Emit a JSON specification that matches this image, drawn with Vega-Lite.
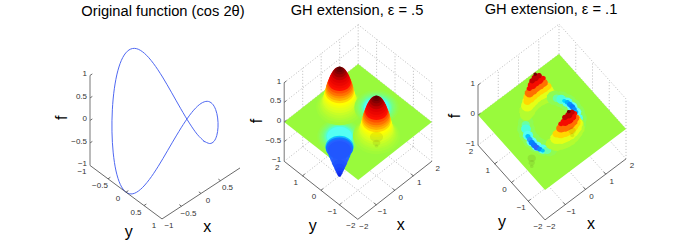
{"$schema":"https://vega.github.io/schema/vega-lite/v6.json","padding":{"left":54,"top":2,"right":0,"bottom":0},"background":"white","bounds":"flush","spacing":24,"config":{"view":{"stroke":null},"text":{"font":"Liberation Sans"},"title":{"font":"Liberation Sans"}},
"datasets":{
"a":[
{"k":"z","x":-1,"y":-1,"f":-1,"x2":-1,"y2":-1,"f2":1},{"k":"a","x":-1,"y":-1,"f":-1,"x2":-1,"y2":1,"f2":-1},{"k":"a","x":-1,"y":1,"f":-1,"x2":1,"y2":1,"f2":-1},
{"k":"a","x":-1,"y":-0.5,"f":-1,"x2":-0.94,"y2":-0.5,"f2":-1},{"k":"a","x":-1,"y":0,"f":-1,"x2":-0.94,"y2":0,"f2":-1},{"k":"a","x":-1,"y":0.5,"f":-1,"x2":-0.94,"y2":0.5,"f2":-1},
{"k":"a","x":-0.5,"y":1,"f":-1,"x2":-0.5,"y2":0.94,"f2":-1},{"k":"a","x":0,"y":1,"f":-1,"x2":0,"y2":0.94,"f2":-1},{"k":"a","x":0.5,"y":1,"f":-1,"x2":0.5,"y2":0.94,"f2":-1},
{"k":"a","x":-1,"y":-1,"f":-0.5,"x2":-0.94,"y2":-1,"f2":-0.5},{"k":"a","x":-1,"y":-1,"f":0,"x2":-0.94,"y2":-1,"f2":0},{"k":"a","x":-1,"y":-1,"f":0.5,"x2":-0.94,"y2":-1,"f2":0.5},{"k":"a","x":-1,"y":-1,"f":1,"x2":-0.94,"y2":-1,"f2":1},
{"k":"c","i":0,"x":1,"y":0,"f":-1},{"k":"c","i":1,"x":0.985,"y":0.174,"f":-0.94},{"k":"c","i":2,"x":0.94,"y":0.342,"f":-0.766},{"k":"c","i":3,"x":0.866,"y":0.5,"f":-0.5},{"k":"c","i":4,"x":0.766,"y":0.643,"f":-0.174},{"k":"c","i":5,"x":0.643,"y":0.766,"f":0.174},{"k":"c","i":6,"x":0.5,"y":0.866,"f":0.5},{"k":"c","i":7,"x":0.342,"y":0.94,"f":0.766},{"k":"c","i":8,"x":0.174,"y":0.985,"f":0.94},{"k":"c","i":9,"x":0,"y":1,"f":1},{"k":"c","i":10,"x":-0.174,"y":0.985,"f":0.94},{"k":"c","i":11,"x":-0.342,"y":0.94,"f":0.766},{"k":"c","i":12,"x":-0.5,"y":0.866,"f":0.5},{"k":"c","i":13,"x":-0.643,"y":0.766,"f":0.174},{"k":"c","i":14,"x":-0.766,"y":0.643,"f":-0.174},{"k":"c","i":15,"x":-0.866,"y":0.5,"f":-0.5},{"k":"c","i":16,"x":-0.94,"y":0.342,"f":-0.766},{"k":"c","i":17,"x":-0.985,"y":0.174,"f":-0.94},{"k":"c","i":18,"x":-1,"y":0,"f":-1},{"k":"c","i":19,"x":-0.985,"y":-0.174,"f":-0.94},{"k":"c","i":20,"x":-0.94,"y":-0.342,"f":-0.766},{"k":"c","i":21,"x":-0.866,"y":-0.5,"f":-0.5},{"k":"c","i":22,"x":-0.766,"y":-0.643,"f":-0.174},{"k":"c","i":23,"x":-0.643,"y":-0.766,"f":0.174},{"k":"c","i":24,"x":-0.5,"y":-0.866,"f":0.5},{"k":"c","i":25,"x":-0.342,"y":-0.94,"f":0.766},{"k":"c","i":26,"x":-0.174,"y":-0.985,"f":0.94},{"k":"c","i":27,"x":0,"y":-1,"f":1},{"k":"c","i":28,"x":0.174,"y":-0.985,"f":0.94},{"k":"c","i":29,"x":0.342,"y":-0.94,"f":0.766},{"k":"c","i":30,"x":0.5,"y":-0.866,"f":0.5},{"k":"c","i":31,"x":0.643,"y":-0.766,"f":0.174},{"k":"c","i":32,"x":0.766,"y":-0.643,"f":-0.174},{"k":"c","i":33,"x":0.866,"y":-0.5,"f":-0.5},{"k":"c","i":34,"x":0.94,"y":-0.342,"f":-0.766},{"k":"c","i":35,"x":0.985,"y":-0.174,"f":-0.94},{"k":"c","i":36,"x":1,"y":0,"f":-1},
{"k":"zl","x":-1,"y":-1,"f":1,"t":"1"},{"k":"zl","x":-1,"y":-1,"f":0.5,"t":"0.5"},{"k":"zl","x":-1,"y":-1,"f":0,"t":"0"},{"k":"zl","x":-1,"y":-1,"f":-0.5,"t":"−0.5"},{"k":"zl","x":-1,"y":-1,"f":-1,"t":"−1"},
{"k":"yl","x":-1,"y":-1,"f":-1,"t":"−1"},{"k":"yl","x":-1,"y":-0.5,"f":-1,"t":"−0.5"},{"k":"yl","x":-1,"y":0,"f":-1,"t":"0"},{"k":"yl","x":-1,"y":0.5,"f":-1,"t":"0.5"},{"k":"yl","x":-1,"y":1,"f":-1,"t":"1"},
{"k":"xl","x":-1,"y":1,"f":-1,"t":"−1"},{"k":"xl","x":-0.5,"y":1,"f":-1,"t":"−0.5"},{"k":"xl","x":0,"y":1,"f":-1,"t":"0"},{"k":"xl","x":0.5,"y":1,"f":-1,"t":"0.5"},
{"k":"ti","x":-1.73,"y":0.87,"f":-1,"t":"y"},{"k":"ti","x":-0.57,"y":1.79,"f":-1,"t":"x"},{"k":"fl","x":-1.36,"y":-1.44,"f":0,"t":"f"}
],
"g":[
{"k":"g","x":2,"y":-2,"f":-1,"x2":2,"y2":-2,"f2":1},{"k":"g","x":2,"y":-1,"f":-1,"x2":2,"y2":-1,"f2":1},{"k":"g","x":2,"y":0,"f":-1,"x2":2,"y2":0,"f2":1},{"k":"g","x":2,"y":1,"f":-1,"x2":2,"y2":1,"f2":1},{"k":"g","x":2,"y":2,"f":-1,"x2":2,"y2":2,"f2":1},
{"k":"g","x":-1,"y":2,"f":-1,"x2":-1,"y2":2,"f2":1},{"k":"g","x":0,"y":2,"f":-1,"x2":0,"y2":2,"f2":1},{"k":"g","x":1,"y":2,"f":-1,"x2":1,"y2":2,"f2":1},
{"k":"g","x":2,"y":-2,"f":-1,"x2":2,"y2":2,"f2":-1},{"k":"g","x":-2,"y":2,"f":-1,"x2":2,"y2":2,"f2":-1},{"k":"g","x":2,"y":-2,"f":0,"x2":2,"y2":2,"f2":0},{"k":"g","x":-2,"y":2,"f":0,"x2":2,"y2":2,"f2":0},{"k":"g","x":2,"y":-2,"f":1,"x2":2,"y2":2,"f2":1},{"k":"g","x":-2,"y":2,"f":1,"x2":2,"y2":2,"f2":1},
{"k":"g","x":-1,"y":-2,"f":-1,"x2":-1,"y2":2,"f2":-1},{"k":"g","x":0,"y":-2,"f":-1,"x2":0,"y2":2,"f2":-1},{"k":"g","x":1,"y":-2,"f":-1,"x2":1,"y2":2,"f2":-1},{"k":"g","x":-2,"y":-1,"f":-1,"x2":2,"y2":-1,"f2":-1},{"k":"g","x":-2,"y":0,"f":-1,"x2":2,"y2":0,"f2":-1},{"k":"g","x":-2,"y":1,"f":-1,"x2":2,"y2":1,"f2":-1},
{"k":"z","x":-2,"y":2,"f":-1,"x2":-2,"y2":2,"f2":1},{"k":"a","x":-2,"y":-2,"f":-1,"x2":-2,"y2":2,"f2":-1},{"k":"a","x":-2,"y":-2,"f":-1,"x2":2,"y2":-2,"f2":-1},
{"k":"a","x":-2,"y":-1,"f":-1,"x2":-1.88,"y2":-1,"f2":-1},{"k":"a","x":-2,"y":0,"f":-1,"x2":-1.88,"y2":0,"f2":-1},{"k":"a","x":-2,"y":1,"f":-1,"x2":-1.88,"y2":1,"f2":-1},
{"k":"a","x":-1,"y":-2,"f":-1,"x2":-1,"y2":-1.88,"f2":-1},{"k":"a","x":0,"y":-2,"f":-1,"x2":0,"y2":-1.88,"f2":-1},{"k":"a","x":1,"y":-2,"f":-1,"x2":1,"y2":-1.88,"f2":-1},
{"k":"a","x":-2,"y":2,"f":0,"x2":-1.88,"y2":2,"f2":0},{"k":"a","x":-2,"y":2,"f":1,"x2":-1.88,"y2":2,"f2":1},
{"k":"zl","x":-2,"y":2,"f":1,"t":"1"},{"k":"zl","x":-2,"y":2,"f":0,"t":"0"},{"k":"zl","x":-2,"y":2,"f":-1,"t":"−1"},
{"k":"yl","x":-2,"y":2,"f":-1,"t":"2"},{"k":"yl","x":-2,"y":1,"f":-1,"t":"1"},{"k":"yl","x":-2,"y":0,"f":-1,"t":"0"},{"k":"yl","x":-2,"y":-1,"f":-1,"t":"−1"},{"k":"yl","x":-2,"y":-2,"f":-1,"t":"−2"},
{"k":"xl","x":-2,"y":-2,"f":-1,"t":"−2"},{"k":"xl","x":-1,"y":-2,"f":-1,"t":"−1"},{"k":"xl","x":0,"y":-2,"f":-1,"t":"0"},{"k":"xl","x":1,"y":-2,"f":-1,"t":"1"},{"k":"xl","x":2,"y":-2,"f":-1,"t":"2"}
],
"g2":[
{"k":"g","x":2,"y":-2,"f":0.5,"x2":2,"y2":2,"f2":0.5},{"k":"g","x":-2,"y":2,"f":0.5,"x2":2,"y2":2,"f2":0.5},{"k":"g","x":2,"y":-2,"f":-0.5,"x2":2,"y2":2,"f2":-0.5},{"k":"g","x":-2,"y":2,"f":-0.5,"x2":2,"y2":2,"f2":-0.5},
{"k":"a","x":-2,"y":2,"f":0.5,"x2":-1.88,"y2":2,"f2":0.5},{"k":"a","x":-2,"y":2,"f":-0.5,"x2":-1.88,"y2":2,"f2":-0.5},
{"k":"zl","x":-2,"y":2,"f":0.5,"t":"0.5"},{"k":"zl","x":-2,"y":2,"f":-0.5,"t":"−0.5"},
{"k":"ti","x":-3.52,"y":-1.08,"f":-1,"t":"y"},{"k":"ti","x":-1.1,"y":-3.43,"f":-1,"t":"x"},{"k":"fl","x":-2.77,"y":2.83,"f":0,"t":"f"},
{"k":"p","x":-2,"y":2,"f":0,"x2":-2,"y2":2,"f2":0},{"k":"p","x":2,"y":2,"f":0,"x2":-2,"y2":-2,"f2":0},{"k":"p","x":2,"y":-2,"f":0,"x2":2,"y2":-2,"f2":0},
{"k":"d","x":-1,"y":0,"f":0,"r":0.85,"v":-0.02},{"k":"d","x":-1,"y":0,"f":0,"r":0.78,"v":-0.05},{"k":"d","x":-1,"y":0,"f":0,"r":0.72,"v":-0.08},{"k":"d","x":-1,"y":0,"f":0,"r":0.66,"v":-0.12},{"k":"d","x":-1,"y":0,"f":0,"r":0.6,"v":-0.16},{"k":"d","x":-1,"y":0,"f":0,"r":0.56,"v":-0.2},{"k":"d","x":-1,"y":0,"f":0,"r":0.52,"v":-0.24},{"k":"d","x":-1,"y":0,"f":0,"r":0.48,"v":-0.28},
{"k":"d","x":0,"y":1,"f":0.02,"r":0.9,"v":0.02},{"k":"d","x":0,"y":1,"f":0.05,"r":0.82,"v":0.05},{"k":"d","x":0,"y":1,"f":0.08,"r":0.76,"v":0.08},{"k":"d","x":0,"y":1,"f":0.11,"r":0.72,"v":0.11},{"k":"d","x":0,"y":1,"f":0.15,"r":0.68,"v":0.15},{"k":"d","x":0,"y":1,"f":0.2,"r":0.65,"v":0.2},{"k":"d","x":0,"y":1,"f":0.25,"r":0.62,"v":0.25},{"k":"d","x":0,"y":1,"f":0.3,"r":0.6,"v":0.3},{"k":"d","x":0,"y":1,"f":0.35,"r":0.58,"v":0.35},{"k":"d","x":0,"y":1,"f":0.4,"r":0.56,"v":0.4},{"k":"d","x":0,"y":1,"f":0.45,"r":0.54,"v":0.45},{"k":"d","x":0,"y":1,"f":0.5,"r":0.52,"v":0.5},{"k":"d","x":0,"y":1,"f":0.55,"r":0.5,"v":0.55},{"k":"d","x":0,"y":1,"f":0.6,"r":0.47,"v":0.6},{"k":"d","x":0,"y":1,"f":0.65,"r":0.44,"v":0.65},{"k":"d","x":0,"y":1,"f":0.7,"r":0.41,"v":0.7},{"k":"d","x":0,"y":1,"f":0.75,"r":0.38,"v":0.75},{"k":"d","x":0,"y":1,"f":0.8,"r":0.34,"v":0.8},{"k":"d","x":0,"y":1,"f":0.85,"r":0.3,"v":0.85},{"k":"d","x":0,"y":1,"f":0.9,"r":0.25,"v":0.9},{"k":"d","x":0,"y":1,"f":0.94,"r":0.19,"v":0.94},{"k":"d","x":0,"y":1,"f":0.97,"r":0.13,"v":0.97},{"k":"d","x":0,"y":1,"f":1,"r":0.07,"v":1},
{"k":"d","x":1,"y":0,"f":0,"r":0.85,"v":-0.02},{"k":"d","x":1,"y":0,"f":0,"r":0.78,"v":-0.05},{"k":"d","x":1,"y":0,"f":0,"r":0.72,"v":-0.08},{"k":"d","x":1,"y":0,"f":0,"r":0.66,"v":-0.12},{"k":"d","x":1,"y":0,"f":0,"r":0.6,"v":-0.16},{"k":"d","x":1,"y":0,"f":0,"r":0.56,"v":-0.2},{"k":"d","x":1,"y":0,"f":0,"r":0.52,"v":-0.24},{"k":"d","x":1,"y":0,"f":0,"r":0.48,"v":-0.28},
{"k":"d","x":0,"y":-1,"f":0.02,"r":0.9,"v":0.02},{"k":"d","x":0,"y":-1,"f":0.05,"r":0.82,"v":0.05},{"k":"d","x":0,"y":-1,"f":0.08,"r":0.76,"v":0.08},{"k":"d","x":0,"y":-1,"f":0.11,"r":0.72,"v":0.11},{"k":"d","x":0,"y":-1,"f":0.15,"r":0.68,"v":0.15},{"k":"d","x":0,"y":-1,"f":0.2,"r":0.65,"v":0.2},{"k":"d","x":0,"y":-1,"f":0.25,"r":0.62,"v":0.25},{"k":"d","x":0,"y":-1,"f":0.3,"r":0.6,"v":0.3},{"k":"d","x":0,"y":-1,"f":0.35,"r":0.58,"v":0.35},{"k":"d","x":0,"y":-1,"f":0.4,"r":0.56,"v":0.4},{"k":"d","x":0,"y":-1,"f":0.45,"r":0.54,"v":0.45},{"k":"d","x":0,"y":-1,"f":0.5,"r":0.52,"v":0.5},{"k":"d","x":0,"y":-1,"f":0.55,"r":0.5,"v":0.55},{"k":"d","x":0,"y":-1,"f":0.6,"r":0.47,"v":0.6},{"k":"d","x":0,"y":-1,"f":0.65,"r":0.44,"v":0.65},{"k":"d","x":0,"y":-1,"f":0.7,"r":0.41,"v":0.7},{"k":"d","x":0,"y":-1,"f":0.75,"r":0.38,"v":0.75},{"k":"d","x":0,"y":-1,"f":0.8,"r":0.34,"v":0.8},{"k":"d","x":0,"y":-1,"f":0.85,"r":0.3,"v":0.85},{"k":"d","x":0,"y":-1,"f":0.9,"r":0.25,"v":0.9},{"k":"d","x":0,"y":-1,"f":0.94,"r":0.19,"v":0.94},{"k":"d","x":0,"y":-1,"f":0.97,"r":0.13,"v":0.97},{"k":"d","x":0,"y":-1,"f":1,"r":0.07,"v":1},
{"k":"d","x":-1,"y":0,"f":-0.45,"r":0.42,"v":-0.55},{"k":"d","x":-1,"y":0,"f":-0.55,"r":0.36,"v":-0.6},{"k":"d","x":-1,"y":0,"f":-0.65,"r":0.3,"v":-0.64},{"k":"d","x":-1,"y":0,"f":-0.72,"r":0.25,"v":-0.68},{"k":"d","x":-1,"y":0,"f":-0.8,"r":0.2,"v":-0.72},{"k":"d","x":-1,"y":0,"f":-0.87,"r":0.15,"v":-0.76},{"k":"d","x":-1,"y":0,"f":-0.93,"r":0.11,"v":-0.82},{"k":"d","x":-1,"y":0,"f":-0.97,"r":0.08,"v":-0.88},{"k":"d","x":-1,"y":0,"f":-1,"r":0.05,"v":-0.95},
{"k":"d","x":-1,"y":0,"f":-0.26,"r":0.54,"v":-0.38},{"k":"d","x":-1,"y":0,"f":-0.28,"r":0.53,"v":-0.45},{"k":"d","x":-1,"y":0,"f":-0.295,"r":0.52,"v":-0.52},{"k":"d","x":-1,"y":0,"f":-0.31,"r":0.5,"v":-0.58},{"k":"d","x":-1,"y":0,"f":-0.33,"r":0.47,"v":-0.62},{"k":"d","x":-1,"y":0,"f":-0.35,"r":0.44,"v":-0.66},
{"k":"h","x":1,"y":0,"f":-0.75,"r":0.25},{"k":"h","x":1,"y":0,"f":-0.9,"r":0.15},{"k":"h","x":1,"y":0,"f":-0.98,"r":0.07}
],
"g3":[
{"k":"ti","x":-3.38,"y":-1.1,"f":-1,"t":"y"},{"k":"ti","x":-0.8,"y":-3.3,"f":-1,"t":"x"},{"k":"fl","x":-2.76,"y":2.57,"f":0,"t":"f"},
{"k":"p","x":-2,"y":2,"f":0,"x2":-2,"y2":2,"f2":0},{"k":"p","x":1.31,"y":2,"f":0,"x2":-2,"y2":-2,"f2":0},{"k":"p","x":2,"y":2,"f":0,"x2":-1.31,"y2":-2,"f2":0},{"k":"p","x":2,"y":-2,"f":0,"x2":2,"y2":-2,"f2":0},
{"k":"d","x":-1,"y":0,"f":-0.1,"r":0.34,"v":-0.05},{"k":"d","x":-0.97,"y":0.26,"f":-0.1,"r":0.34,"v":-0.05},{"k":"d","x":-0.97,"y":-0.26,"f":-0.1,"r":0.34,"v":-0.05},{"k":"d","x":-0.87,"y":0.5,"f":-0.1,"r":0.34,"v":-0.05},{"k":"d","x":-0.87,"y":-0.5,"f":-0.1,"r":0.34,"v":-0.05},{"k":"d","x":-0.71,"y":0.71,"f":-0.1,"r":0.3,"v":-0.04},{"k":"d","x":-0.71,"y":-0.71,"f":-0.1,"r":0.3,"v":-0.04},
{"k":"d","x":-0.77,"y":0.64,"f":-0.1,"r":0.16,"v":-0.18},{"k":"d","x":-0.87,"y":0.5,"f":-0.1,"r":0.19,"v":-0.25},{"k":"d","x":-0.97,"y":0.26,"f":-0.12,"r":0.2,"v":-0.28},{"k":"d","x":-1,"y":0,"f":-0.15,"r":0.2,"v":-0.3},{"k":"d","x":-0.97,"y":-0.26,"f":-0.15,"r":0.2,"v":-0.3},{"k":"d","x":-0.87,"y":-0.5,"f":-0.15,"r":0.19,"v":-0.28},{"k":"d","x":-0.77,"y":-0.64,"f":-0.15,"r":0.16,"v":-0.2},
{"k":"d","x":-0.97,"y":0.26,"f":-0.15,"r":0.1,"v":-0.4},{"k":"d","x":-0.99,"y":0.13,"f":-0.16,"r":0.11,"v":-0.46},{"k":"d","x":-1,"y":0,"f":-0.18,"r":0.12,"v":-0.52},{"k":"d","x":-0.99,"y":-0.13,"f":-0.19,"r":0.12,"v":-0.56},{"k":"d","x":-0.97,"y":-0.26,"f":-0.2,"r":0.12,"v":-0.6},{"k":"d","x":-0.92,"y":-0.38,"f":-0.2,"r":0.1,"v":-0.5},{"k":"d","x":-0.87,"y":-0.5,"f":-0.2,"r":0.08,"v":-0.4},
{"k":"d","x":0,"y":1,"f":0.08,"r":0.32,"v":0.08},{"k":"d","x":0.17,"y":0.98,"f":0.08,"r":0.32,"v":0.08},{"k":"d","x":-0.17,"y":0.98,"f":0.08,"r":0.32,"v":0.08},{"k":"d","x":0.34,"y":0.94,"f":0.08,"r":0.31,"v":0.08},{"k":"d","x":-0.34,"y":0.94,"f":0.08,"r":0.31,"v":0.08},{"k":"d","x":0.5,"y":0.87,"f":0.08,"r":0.31,"v":0.08},{"k":"d","x":-0.5,"y":0.87,"f":0.08,"r":0.31,"v":0.08},{"k":"d","x":0.64,"y":0.77,"f":0.08,"r":0.24,"v":0.08},{"k":"d","x":-0.64,"y":0.77,"f":0.08,"r":0.24,"v":0.08},
{"k":"d","x":0,"y":1,"f":0.25,"r":0.29,"v":0.25},{"k":"d","x":0.17,"y":0.98,"f":0.25,"r":0.29,"v":0.25},{"k":"d","x":-0.17,"y":0.98,"f":0.25,"r":0.29,"v":0.25},{"k":"d","x":0.34,"y":0.94,"f":0.25,"r":0.28,"v":0.25},{"k":"d","x":-0.34,"y":0.94,"f":0.25,"r":0.28,"v":0.25},{"k":"d","x":0.5,"y":0.87,"f":0.25,"r":0.24,"v":0.25},{"k":"d","x":-0.5,"y":0.87,"f":0.25,"r":0.24,"v":0.25},
{"k":"d","x":0,"y":1,"f":0.4,"r":0.26,"v":0.4},{"k":"d","x":0.17,"y":0.98,"f":0.4,"r":0.25,"v":0.4},{"k":"d","x":-0.17,"y":0.98,"f":0.4,"r":0.25,"v":0.4},{"k":"d","x":0.34,"y":0.94,"f":0.4,"r":0.23,"v":0.4},{"k":"d","x":-0.34,"y":0.94,"f":0.4,"r":0.23,"v":0.4},{"k":"d","x":0.5,"y":0.87,"f":0.4,"r":0.15,"v":0.4},{"k":"d","x":-0.5,"y":0.87,"f":0.4,"r":0.15,"v":0.4},
{"k":"d","x":0,"y":1,"f":0.55,"r":0.23,"v":0.55},{"k":"d","x":0.17,"y":0.98,"f":0.55,"r":0.22,"v":0.55},{"k":"d","x":-0.17,"y":0.98,"f":0.55,"r":0.22,"v":0.55},{"k":"d","x":0.34,"y":0.94,"f":0.55,"r":0.18,"v":0.55},{"k":"d","x":-0.34,"y":0.94,"f":0.55,"r":0.18,"v":0.55},
{"k":"d","x":0,"y":1,"f":0.7,"r":0.18,"v":0.7},{"k":"d","x":0.17,"y":0.98,"f":0.7,"r":0.17,"v":0.7},{"k":"d","x":-0.17,"y":0.98,"f":0.7,"r":0.17,"v":0.7},{"k":"d","x":0.34,"y":0.94,"f":0.7,"r":0.1,"v":0.7},{"k":"d","x":-0.34,"y":0.94,"f":0.7,"r":0.1,"v":0.7},
{"k":"d","x":0,"y":1,"f":0.85,"r":0.14,"v":0.85},{"k":"d","x":0.17,"y":0.98,"f":0.85,"r":0.11,"v":0.85},{"k":"d","x":-0.17,"y":0.98,"f":0.85,"r":0.11,"v":0.85},{"k":"d","x":0,"y":1,"f":0.97,"r":0.07,"v":0.97},
{"k":"d","x":1,"y":0,"f":0,"r":0.34,"v":-0.05},{"k":"d","x":0.97,"y":0.26,"f":0,"r":0.34,"v":-0.05},{"k":"d","x":0.97,"y":-0.26,"f":0,"r":0.34,"v":-0.05},{"k":"d","x":0.87,"y":0.5,"f":0,"r":0.34,"v":-0.05},{"k":"d","x":0.87,"y":-0.5,"f":0,"r":0.34,"v":-0.05},{"k":"d","x":0.71,"y":0.71,"f":0,"r":0.3,"v":-0.04},{"k":"d","x":0.71,"y":-0.71,"f":0,"r":0.3,"v":-0.04},
{"k":"d","x":0.77,"y":0.64,"f":0,"r":0.16,"v":-0.18},{"k":"d","x":0.87,"y":0.5,"f":0,"r":0.19,"v":-0.25},{"k":"d","x":0.97,"y":0.26,"f":0,"r":0.2,"v":-0.28},{"k":"d","x":1,"y":0,"f":0,"r":0.2,"v":-0.3},{"k":"d","x":0.97,"y":-0.26,"f":0,"r":0.2,"v":-0.3},{"k":"d","x":0.87,"y":-0.5,"f":0,"r":0.19,"v":-0.28},{"k":"d","x":0.77,"y":-0.64,"f":0,"r":0.16,"v":-0.2},
{"k":"d","x":0.92,"y":0.38,"f":0,"r":0.08,"v":-0.36},{"k":"d","x":0.97,"y":0.26,"f":0,"r":0.1,"v":-0.42},{"k":"d","x":0.99,"y":0.13,"f":0,"r":0.11,"v":-0.5},{"k":"d","x":1,"y":0,"f":0,"r":0.11,"v":-0.55},{"k":"d","x":0.99,"y":-0.13,"f":0,"r":0.1,"v":-0.5},{"k":"d","x":0.97,"y":-0.26,"f":0,"r":0.09,"v":-0.42},
{"k":"d","x":0,"y":-1,"f":0.08,"r":0.32,"v":0.08},{"k":"d","x":0.17,"y":-0.98,"f":0.08,"r":0.32,"v":0.08},{"k":"d","x":-0.17,"y":-0.98,"f":0.08,"r":0.32,"v":0.08},{"k":"d","x":0.34,"y":-0.94,"f":0.08,"r":0.31,"v":0.08},{"k":"d","x":-0.34,"y":-0.94,"f":0.08,"r":0.31,"v":0.08},{"k":"d","x":0.5,"y":-0.87,"f":0.08,"r":0.31,"v":0.08},{"k":"d","x":-0.5,"y":-0.87,"f":0.08,"r":0.31,"v":0.08},{"k":"d","x":0.64,"y":-0.77,"f":0.08,"r":0.24,"v":0.08},{"k":"d","x":-0.64,"y":-0.77,"f":0.08,"r":0.24,"v":0.08},
{"k":"d","x":0,"y":-1,"f":0.25,"r":0.29,"v":0.25},{"k":"d","x":0.17,"y":-0.98,"f":0.25,"r":0.29,"v":0.25},{"k":"d","x":-0.17,"y":-0.98,"f":0.25,"r":0.29,"v":0.25},{"k":"d","x":0.34,"y":-0.94,"f":0.25,"r":0.28,"v":0.25},{"k":"d","x":-0.34,"y":-0.94,"f":0.25,"r":0.28,"v":0.25},{"k":"d","x":0.5,"y":-0.87,"f":0.25,"r":0.24,"v":0.25},{"k":"d","x":-0.5,"y":-0.87,"f":0.25,"r":0.24,"v":0.25},
{"k":"d","x":0,"y":-1,"f":0.4,"r":0.26,"v":0.4},{"k":"d","x":0.17,"y":-0.98,"f":0.4,"r":0.25,"v":0.4},{"k":"d","x":-0.17,"y":-0.98,"f":0.4,"r":0.25,"v":0.4},{"k":"d","x":0.34,"y":-0.94,"f":0.4,"r":0.23,"v":0.4},{"k":"d","x":-0.34,"y":-0.94,"f":0.4,"r":0.23,"v":0.4},{"k":"d","x":0.5,"y":-0.87,"f":0.4,"r":0.15,"v":0.4},{"k":"d","x":-0.5,"y":-0.87,"f":0.4,"r":0.15,"v":0.4},
{"k":"d","x":0,"y":-1,"f":0.55,"r":0.23,"v":0.55},{"k":"d","x":0.17,"y":-0.98,"f":0.55,"r":0.22,"v":0.55},{"k":"d","x":-0.17,"y":-0.98,"f":0.55,"r":0.22,"v":0.55},{"k":"d","x":0.34,"y":-0.94,"f":0.55,"r":0.18,"v":0.55},{"k":"d","x":-0.34,"y":-0.94,"f":0.55,"r":0.18,"v":0.55},
{"k":"d","x":0,"y":-1,"f":0.7,"r":0.18,"v":0.7},{"k":"d","x":0.17,"y":-0.98,"f":0.7,"r":0.17,"v":0.7},{"k":"d","x":-0.17,"y":-0.98,"f":0.7,"r":0.17,"v":0.7},{"k":"d","x":0.34,"y":-0.94,"f":0.7,"r":0.1,"v":0.7},{"k":"d","x":-0.34,"y":-0.94,"f":0.7,"r":0.1,"v":0.7},
{"k":"d","x":0,"y":-1,"f":0.85,"r":0.14,"v":0.85},{"k":"d","x":0.17,"y":-0.98,"f":0.85,"r":0.11,"v":0.85},{"k":"d","x":-0.17,"y":-0.98,"f":0.85,"r":0.11,"v":0.85},{"k":"d","x":0,"y":-1,"f":0.97,"r":0.07,"v":0.97},
{"k":"h","x":1,"y":0,"f":-0.8,"r":0.14},{"k":"h","x":1,"y":0,"f":-0.95,"r":0.08},{"k":"h","x":-1,"y":0,"f":-0.7,"r":0.16},{"k":"h","x":-1,"y":0,"f":-0.85,"r":0.12},{"k":"h","x":-1,"y":0,"f":-0.97,"r":0.07}
]
},
"hconcat":[
{"width":170,"height":220,"title":{"text":"Original function (cos 2θ)","fontSize":14.7,"fontWeight":"normal","offset":7,"color":"#000"},
"data":{"name":"a"},
"transform":[{"calculate":"165+39*datum.x+36*datum.y","as":"sx"},{"calculate":"120.7-25.5*datum.x+26.75*datum.y-45*datum.f","as":"sy"},{"calculate":"165+39*datum.x2+36*datum.y2","as":"sx2"},{"calculate":"120.7-25.5*datum.x2+26.75*datum.y2-45*datum.f2","as":"sy2"}],
"encoding":{"x":{"field":"sx","type":"quantitative","scale":{"domain":[78,248],"nice":false,"zero":false},"axis":null},"y":{"field":"sy","type":"quantitative","scale":{"domain":[245,25],"nice":false,"zero":false},"axis":null}},
"layer":[
{"transform":[{"filter":"datum.k==='c'"}],"mark":{"type":"line","color":"#4f68f2","strokeWidth":1,"interpolate":"cardinal-closed"},"encoding":{"order":{"field":"i","type":"quantitative"}}},
{"transform":[{"filter":"datum.k==='a'"}],"mark":{"type":"rule","color":"#444","strokeWidth":0.8},"encoding":{"x2":{"field":"sx2"},"y2":{"field":"sy2"}}},
{"transform":[{"filter":"datum.k==='z'"}],"mark":{"type":"rule","color":"#777","strokeWidth":1},"encoding":{"x2":{"field":"sx2"},"y2":{"field":"sy2"}}},
{"transform":[{"filter":"datum.k==='zl'"}],"mark":{"type":"text","fontSize":8,"align":"right","baseline":"middle","dx":-3,"dy":-1,"color":"#333"},"encoding":{"text":{"field":"t"}}},
{"transform":[{"filter":"datum.k==='yl'"}],"mark":{"type":"text","fontSize":8,"align":"center","baseline":"middle","dx":-8,"dy":7,"color":"#333"},"encoding":{"text":{"field":"t"}}},
{"transform":[{"filter":"datum.k==='xl'"}],"mark":{"type":"text","fontSize":8,"align":"center","baseline":"middle","dx":7,"dy":7.5,"color":"#333"},"encoding":{"text":{"field":"t"}}},
{"transform":[{"filter":"datum.k==='ti'"}],"mark":{"type":"text","fontSize":16,"align":"center","baseline":"middle","dy":-2,"color":"#000"},"encoding":{"text":{"field":"t"}}},
{"transform":[{"filter":"datum.k==='fl'"}],"mark":{"type":"text","fontSize":16,"align":"center","baseline":"middle","angle":270,"dy":2,"color":"#000"},"encoding":{"text":{"field":"t"}}}
]},
{"width":170,"height":220,"title":{"text":"GH extension, ε = .5","fontSize":14.7,"fontWeight":"normal","offset":7,"color":"#000"},
"encoding":{"x":{"field":"sx","type":"quantitative","scale":{"domain":[272,442],"nice":false,"zero":false},"axis":null},"y":{"field":"sy","type":"quantitative","scale":{"domain":[245,25],"nice":false,"zero":false},"axis":null}},
"layer":[
{"data":{"name":"g"},"transform":[{"filter":"datum.k==='g'"},{"calculate":"358+18.5*datum.x-18.4*datum.y","as":"sx"},{"calculate":"121-14.5*datum.x-14.5*datum.y-39.3*datum.f","as":"sy"},{"calculate":"358+18.5*datum.x2-18.4*datum.y2","as":"sx2"},{"calculate":"121-14.5*datum.x2-14.5*datum.y2-39.3*datum.f2","as":"sy2"}],"mark":{"type":"rule","color":"#aaa","strokeWidth":0.8,"strokeDash":[1,2]},"encoding":{"x2":{"field":"sx2"},"y2":{"field":"sy2"}}},
{"data":{"name":"g2"},"transform":[{"calculate":"358+18.5*datum.x-18.4*datum.y","as":"sx"},{"calculate":"121-14.5*datum.x-14.5*datum.y-39.3*datum.f","as":"sy"},{"calculate":"358+18.5*datum.x2-18.4*datum.y2","as":"sx2"},{"calculate":"121-14.5*datum.x2-14.5*datum.y2-39.3*datum.f2","as":"sy2"},{"calculate":"2725*datum.r*datum.r","as":"sz"}],
"layer":[
{"transform":[{"filter":"datum.k==='g'"}],"mark":{"type":"rule","color":"#aaa","strokeWidth":0.8,"strokeDash":[1,2]},"encoding":{"x2":{"field":"sx2"},"y2":{"field":"sy2"}}},
{"transform":[{"filter":"datum.k==='p'"}],"mark":{"type":"area","color":"#99fa3c","opacity":1},"encoding":{"y2":{"field":"sy2"}}},
{"transform":[{"filter":"datum.k==='d'"}],"mark":{"type":"point","filled":true,"opacity":1,"shape":"M-1,0A1,0.785 0 1,1 1,0A1,0.785 0 1,1 -1,0Z"},"encoding":{"size":{"field":"sz","type":"quantitative","scale":null},"color":{"field":"v","type":"quantitative","legend":null,"scale":{"domain":[-1,-0.8,-0.6,-0.45,-0.3,-0.2,-0.1,0,0.2,0.35,0.45,0.55,0.65,0.8,0.9,1],"range":["#0018e0","#1838f8","#2a62ff","#30a0ff","#60ffff","#66ffb0","#80ff70","#99fa3c","#d8ff20","#ffff00","#ffb000","#ff7000","#ff1000","#e00000","#a00000","#5a0000"]}}}},
{"transform":[{"filter":"datum.k==='h'"}],"mark":{"type":"point","filled":true,"opacity":0.09,"color":"#443300","shape":"M-1,0A1,0.785 0 1,1 1,0A1,0.785 0 1,1 -1,0Z"},"encoding":{"size":{"field":"sz","type":"quantitative","scale":null}}},
{"transform":[{"filter":"datum.k==='a'"}],"mark":{"type":"rule","color":"#444","strokeWidth":0.8},"encoding":{"x2":{"field":"sx2"},"y2":{"field":"sy2"}}},
{"transform":[{"filter":"datum.k==='zl'"}],"mark":{"type":"text","fontSize":8,"align":"right","baseline":"middle","dx":-3,"dy":-1,"color":"#333"},"encoding":{"text":{"field":"t"}}},
{"transform":[{"filter":"datum.k==='ti'"}],"mark":{"type":"text","fontSize":16,"align":"center","baseline":"middle","dy":-2,"color":"#000"},"encoding":{"text":{"field":"t"}}},
{"transform":[{"filter":"datum.k==='fl'"}],"mark":{"type":"text","fontSize":16,"align":"center","baseline":"middle","angle":270,"dy":2,"color":"#000"},"encoding":{"text":{"field":"t"}}}
]},
{"data":{"name":"g"},"transform":[{"calculate":"358+18.5*datum.x-18.4*datum.y","as":"sx"},{"calculate":"121-14.5*datum.x-14.5*datum.y-39.3*datum.f","as":"sy"},{"calculate":"358+18.5*datum.x2-18.4*datum.y2","as":"sx2"},{"calculate":"121-14.5*datum.x2-14.5*datum.y2-39.3*datum.f2","as":"sy2"}],
"layer":[
{"transform":[{"filter":"datum.k==='a'"}],"mark":{"type":"rule","color":"#444","strokeWidth":0.8},"encoding":{"x2":{"field":"sx2"},"y2":{"field":"sy2"}}},
{"transform":[{"filter":"datum.k==='z'"}],"mark":{"type":"rule","color":"#777","strokeWidth":1},"encoding":{"x2":{"field":"sx2"},"y2":{"field":"sy2"}}},
{"transform":[{"filter":"datum.k==='zl'"}],"mark":{"type":"text","fontSize":8,"align":"right","baseline":"middle","dx":-3,"dy":-1,"color":"#333"},"encoding":{"text":{"field":"t"}}},
{"transform":[{"filter":"datum.k==='yl'"}],"mark":{"type":"text","fontSize":8,"align":"center","baseline":"middle","dx":-7,"dy":7,"color":"#333"},"encoding":{"text":{"field":"t"}}},
{"transform":[{"filter":"datum.k==='xl'"}],"mark":{"type":"text","fontSize":8,"align":"center","baseline":"middle","dx":6,"dy":7.5,"color":"#333"},"encoding":{"text":{"field":"t"}}}
]}
]},
{"width":170,"height":220,"title":{"text":"GH extension, ε = .1","fontSize":14.7,"fontWeight":"normal","offset":7,"color":"#000"},
"encoding":{"x":{"field":"sx","type":"quantitative","scale":{"domain":[466,636],"nice":false,"zero":false},"axis":null},"y":{"field":"sy","type":"quantitative","scale":{"domain":[245,25],"nice":false,"zero":false},"axis":null}},
"layer":[
{"data":{"name":"g"},"transform":[{"filter":"datum.k==='g'"},{"calculate":"552+20.25*datum.x-16.75*datum.y","as":"sx"},{"calculate":"121-15.25*datum.x-18.7*datum.y-30*datum.f","as":"sy"},{"calculate":"552+20.25*datum.x2-16.75*datum.y2","as":"sx2"},{"calculate":"121-15.25*datum.x2-18.7*datum.y2-30*datum.f2","as":"sy2"}],"mark":{"type":"rule","color":"#aaa","strokeWidth":0.8,"strokeDash":[1,2]},"encoding":{"x2":{"field":"sx2"},"y2":{"field":"sy2"}}},
{"data":{"name":"g3"},"transform":[{"calculate":"552+20.25*datum.x-16.75*datum.y","as":"sx"},{"calculate":"121-15.25*datum.x-18.7*datum.y-30*datum.f","as":"sy"},{"calculate":"552+20.25*datum.x2-16.75*datum.y2","as":"sx2"},{"calculate":"121-15.25*datum.x2-18.7*datum.y2-30*datum.f2","as":"sy2"},{"calculate":"2500*datum.r*datum.r","as":"sz"}],
"layer":[
{"transform":[{"filter":"datum.k==='p'"}],"mark":{"type":"area","color":"#99fa3c","opacity":1},"encoding":{"y2":{"field":"sy2"}}},
{"transform":[{"filter":"datum.k==='d'"}],"mark":{"type":"point","filled":true,"opacity":1,"shape":"M0.81,-0.61L0.366,-0.903L-0.175,-0.955L-0.67,-0.75L-0.985,-0.345L-1.036,0.153L-0.81,0.61L-0.366,0.903L0.175,0.955L0.67,0.75L0.985,0.345L1.036,-0.153Z"},"encoding":{"size":{"field":"sz","type":"quantitative","scale":null},"color":{"field":"v","type":"quantitative","legend":null,"scale":{"domain":[-1,-0.8,-0.6,-0.45,-0.3,-0.2,-0.1,0,0.2,0.35,0.45,0.55,0.65,0.8,0.9,1],"range":["#0018e0","#1838f8","#2a62ff","#30a0ff","#60ffff","#66ffb0","#80ff70","#99fa3c","#d8ff20","#ffff00","#ffb000","#ff7000","#ff1000","#e00000","#a00000","#5a0000"]}}}},
{"transform":[{"filter":"datum.k==='h'"}],"mark":{"type":"point","filled":true,"opacity":0.1,"color":"#443300","shape":"M0.81,-0.61L0.366,-0.903L-0.175,-0.955L-0.67,-0.75L-0.985,-0.345L-1.036,0.153L-0.81,0.61L-0.366,0.903L0.175,0.955L0.67,0.75L0.985,0.345L1.036,-0.153Z"},"encoding":{"size":{"field":"sz","type":"quantitative","scale":null}}},
{"transform":[{"filter":"datum.k==='ti'"}],"mark":{"type":"text","fontSize":16,"align":"center","baseline":"middle","dy":-2,"color":"#000"},"encoding":{"text":{"field":"t"}}},
{"transform":[{"filter":"datum.k==='fl'"}],"mark":{"type":"text","fontSize":16,"align":"center","baseline":"middle","angle":270,"dy":2,"color":"#000"},"encoding":{"text":{"field":"t"}}}
]},
{"data":{"name":"g"},"transform":[{"calculate":"552+20.25*datum.x-16.75*datum.y","as":"sx"},{"calculate":"121-15.25*datum.x-18.7*datum.y-30*datum.f","as":"sy"},{"calculate":"552+20.25*datum.x2-16.75*datum.y2","as":"sx2"},{"calculate":"121-15.25*datum.x2-18.7*datum.y2-30*datum.f2","as":"sy2"}],
"layer":[
{"transform":[{"filter":"datum.k==='a'"}],"mark":{"type":"rule","color":"#444","strokeWidth":0.8},"encoding":{"x2":{"field":"sx2"},"y2":{"field":"sy2"}}},
{"transform":[{"filter":"datum.k==='z'"}],"mark":{"type":"rule","color":"#777","strokeWidth":1},"encoding":{"x2":{"field":"sx2"},"y2":{"field":"sy2"}}},
{"transform":[{"filter":"datum.k==='zl'"}],"mark":{"type":"text","fontSize":8,"align":"right","baseline":"middle","dx":-3,"dy":-1,"color":"#333"},"encoding":{"text":{"field":"t"}}},
{"transform":[{"filter":"datum.k==='yl'"}],"mark":{"type":"text","fontSize":8,"align":"center","baseline":"middle","dx":-7,"dy":7,"color":"#333"},"encoding":{"text":{"field":"t"}}},
{"transform":[{"filter":"datum.k==='xl'"}],"mark":{"type":"text","fontSize":8,"align":"center","baseline":"middle","dx":6,"dy":7.5,"color":"#333"},"encoding":{"text":{"field":"t"}}}
]}
]}
]}
